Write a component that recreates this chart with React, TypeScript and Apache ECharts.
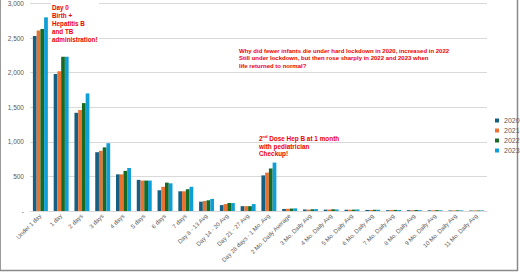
import React, { useEffect, useRef } from "react";
import * as echarts from "echarts";

const categories = [
  "Under 1 day", "1 day", "2 days", "3 days", "4 days", "5 days", "6 days", "7 days",
  "Day 8 - 13 Avg", "Day 14 - 20 Avg", "Day 21 - 27 Avg", "Day 28 days - 1 Mo. Avg",
  "2 Mo. Daily Average", "3 Mo. Daily Avg", "4 Mo. Daily Avg", "5 Mo. Daily Avg",
  "6 Mo. Daily Avg", "7 Mo. Daily Avg", "8 Mo. Daily Avg", "9 Mo. Daily Avg",
  "10 Mo. Daily Avg", "11 Mo. Daily Avg",
];

const years = ["2020", "2021", "2022", "2023"];
const y2020 = [2530, 1980, 1420, 850, 530, 450, 300, 285, 135, 85, 70, 515, 30, 22, 20, 18, 15, 12, 12, 10, 8, 7];
const y2021 = [2610, 2020, 1460, 870, 530, 440, 350, 285, 145, 100, 70, 555, 32, 20, 20, 18, 15, 14, 12, 10, 9, 8];
const y2022 = [2630, 2230, 1560, 920, 580, 440, 410, 315, 155, 115, 70, 615, 35, 25, 25, 20, 18, 16, 14, 12, 10, 8];
const y2023 = [2800, 2230, 1700, 980, 620, 440, 400, 350, 175, 115, 100, 700, 38, 28, 22, 22, 18, 15, 12, 10, 9, 8];
const seriesValues = [y2020, y2021, y2022, y2023];
const colors = ["#156082", "#E97132", "#196B24", "#0F9ED5"];

const annoDay0 = ["Day 0", "Birth +", "Hepatitis B", "and TB", "administration!"];
const annoWhy = [
  "Why did fewer infants die under hard lockdown in 2020, increased in 2022",
  "Still under lockdown, but then rose sharply in 2022 and 2023 when",
  "life returned to normal?",
];
const annoDose = ["{a|2}{s|nd}{a| Dose Hep B at 1 month}", "{a|with pediatrician}", "{a|Checkup!}"];

export default function App() {
  const ref = useRef<HTMLDivElement>(null);
  useEffect(() => {
    if (!ref.current) return;
    const chart = echarts.init(ref.current, undefined, { renderer: "svg" });
    const red = "#EE0000";
    const lines = (arr: string[], x: number, y0: number, lh: number, font: string, rich?: any) =>
      arr.map((t, i) => ({
        type: "text",
        x,
        y: y0 + i * lh,
        z: 10,
        style: {
          text: t,
          fill: red,
          font,
          textVerticalAlign: "middle",
          verticalAlign: "middle",
          ...(rich ? { rich } : {}),
        },
      }));
    chart.setOption({
      animation: false,
      backgroundColor: "#ffffff",
      textStyle: { fontFamily: "Liberation Sans" },
      grid: { left: 30, right: 33, top: 3, bottom: 61, containLabel: false },
      legend: {
        orient: "vertical",
        left: 490,
        top: 112,
        itemWidth: 4,
        itemHeight: 4,
        itemGap: 3,
        icon: "rect",
        textStyle: { fontSize: 7, color: "#595959" },
        data: years,
      },
      xAxis: {
        type: "category",
        data: categories,
        axisLine: { lineStyle: { color: "#D9D9D9" } },
        axisTick: { show: false },
        axisLabel: { interval: 0, rotate: 45, fontSize: 6, color: "#595959", margin: 4 },
      },
      yAxis: {
        type: "value",
        min: 0,
        max: 3000,
        interval: 500,
        axisLine: { show: false },
        axisTick: { show: false },
        splitLine: { lineStyle: { color: "#D9D9D9" } },
        axisLabel: {
          fontSize: 6.5,
          color: "#595959",
          margin: 6,
          formatter: (v: number) => (v === 0 ? "-" : v.toLocaleString("en-US")),
        },
      },
      series: years.map((y, i) => ({
        name: y,
        type: "bar",
        data: seriesValues[i],
        itemStyle: { color: colors[i] },
        barGap: "0%",
        barCategoryGap: "28%",
      })),
      graphic: [
        {
          type: "rect",
          z: 5,
          shape: { x: 51, y: 2, width: 48, height: 42 },
          style: { fill: "#ffffff" },
        },
        ...lines(annoDay0, 52, 7, 8, "bold 6.3px 'Liberation Sans'"),
        ...lines(annoWhy, 239, 50.7, 7.4, "bold 6px 'Liberation Sans'"),
        ...lines(annoDose, 259, 138.3, 7.7, "bold 6.4px 'Liberation Sans'", {
          a: { fill: red, font: "bold 6.4px 'Liberation Sans'" },
          s: { fill: red, font: "bold 4px 'Liberation Sans'", padding: [0, 0, 3, 0] },
        }),
        {
          type: "line",
          shape: { x1: 0.5, y1: 0, x2: 0.5, y2: 270.5 },
          style: { stroke: "#9a9a9a", lineWidth: 1 },
        },
        {
          type: "line",
          shape: { x1: 0, y1: 270.5, x2: 518, y2: 270.5 },
          style: { stroke: "#8a8a8a", lineWidth: 1.5 },
        },
        {
          type: "line",
          shape: { x1: 517.5, y1: 0, x2: 517.5, y2: 271 },
          style: { stroke: "#8a8a8a", lineWidth: 1.5 },
        },
      ],
    });
    return () => chart.dispose();
  }, []);
  return (
    <div
      ref={ref}
      style={{ position: "fixed", left: 0, top: 0, width: 520, height: 272 }}
    />
  );
}
